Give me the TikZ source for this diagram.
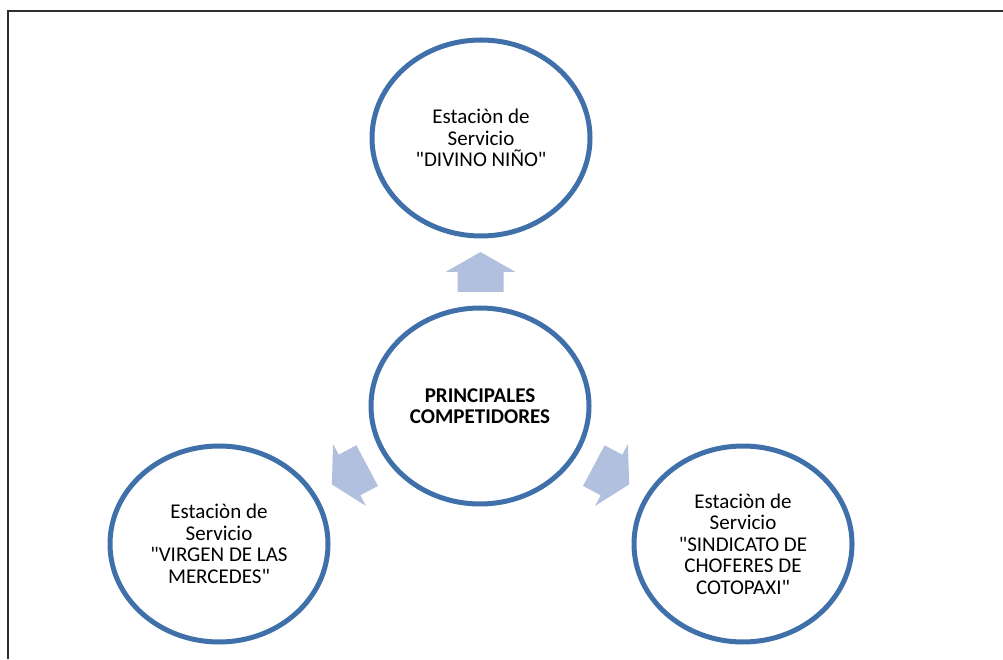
\documentclass[tikz,border=0pt]{standalone}
\usepackage{fontspec}
\setmainfont{Carlito}
\usepackage{tikz}
\usetikzlibrary{shapes.geometric,calc}
\definecolor{ringblue}{RGB}{64,112,170}
\definecolor{arrowblue}{RGB}{176,192,222}
\definecolor{framegray}{RGB}{45,45,45}
\tikzset{
  ring/.style={ellipse, draw=ringblue, line width=5pt, minimum width=218pt,
    minimum height=196pt, inner sep=0pt, align=center,
    font=\fontsize{21}{21.5}\selectfont},
  flecha/.style={fill=arrowblue}
}

\begin{document}
\begin{tikzpicture}[x=1pt,y=1pt]
\useasboundingbox (0,0) rectangle (1003,659);
\draw[framegray, line width=2pt] (7.5,0) -- (7.5,648) -- (1003,648);
\node[ring] (comp)      at (480,253) {\textbf{PRINCIPALES}\\\textbf{COMPETIDORES}};
\node[ring] (divino)    at (481,521) {Estaciòn de\\Servicio\\\textquotedbl DIVINO NIÑO\textquotedbl};
\node[ring] (virgen)    at (219,115) {Estaciòn de\\Servicio\\\textquotedbl VIRGEN DE LAS\\MERCEDES\textquotedbl};
\node[ring] (sindicato) at (743,115) {Estaciòn de\\Servicio\\\textquotedbl SINDICATO DE\\CHOFERES DE\\COTOPAXI\textquotedbl};
\foreach \t/\a in {divino/90, virgen/208, sindicato/-28}
{
  \fill[flecha, shift={($(comp)!0.5!(\t)$)}, rotate=\a]
    (20,0) -- (0,35) -- (0,23) -- (-20,23) -- (-20,-23) -- (0,-23) -- (0,-35) -- cycle;
}
\end{tikzpicture}
\end{document}
